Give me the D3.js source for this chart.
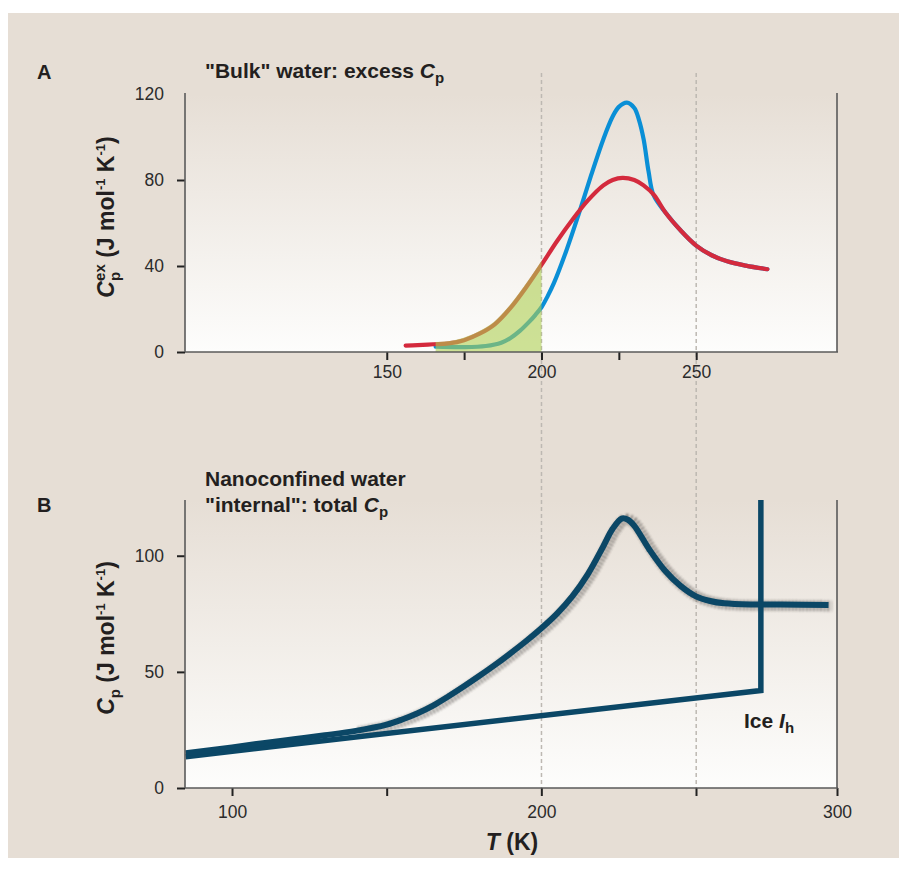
<!DOCTYPE html>
<html><head><meta charset="utf-8">
<script src="https://cdn.jsdelivr.net/npm/d3@7"></script>
<style>body{margin:0;background:#fff;} svg{display:block;font-family:"Liberation Sans",Arial,Helvetica,sans-serif;}</style>
</head><body><svg id="c" width="907" height="871"></svg>
<script>
// ---- Panel A data: "Bulk" water excess Cp (T in K, Cp in J mol-1 K-1)
const redT  = [156.1,160,165,170,175,180,185,190,195,200,205,210,215,220,223,226.2,230,233,236.4,240,245,250,255,260,266,273];
const redV  = [3,3.2,3.6,4,5.5,8.5,13,20.5,30,40.5,51.5,61.5,70.5,77.5,80,81,80,77.5,73,65,56.5,49.5,45,42.2,40.2,38.5];
const blueT = [165.8,175,182,187,190,193,196,198,200,202,204,208,212,216,220,223,225,227.6,230,231.5,233,234.6,236.2,240,245,250,255,260,266,273];
const blueV = [2.5,2.3,2.8,4.3,6.5,9.8,14,17.2,20.8,26,32,47,64,82,99,109.5,114,116,113.5,108,99,84,73,65,56.5,49.5,45,42.2,40.2,38.5];
const shadeRange = [165.8,200];
const ticksA = [150,175,200,225,250];
const labelsA = [150,200,250];
const yTicksA = [0,40,80,120];
// ---- Panel B data: nanoconfined water total Cp and ice Ih
const waterT = [85,100,110,120,130,140,150,155,160,165,170,175,180,185,190,195,200,205,210,215,220,223,226,228,230,235,240,245,250,255,260,270,280,297];
const waterV = [15,17.5,19.3,21,22.7,24.6,27.3,29.5,32.2,35.5,39.5,43.8,48.3,53,58,63.2,68.8,75,82.5,92,104,111.5,116,115.5,113,102.5,93.5,87,82.5,80.5,79.5,79,79,78.8];
const iceT = [85,273,273];
const iceV = [13.5,42,124];
const ticksB = [100,150,200,250,300];
const labelsB = [100,200,300];
const yTicksB = [0,50,100];
const guideT = [200,250];

const svg = d3.select("#c");
const defs = svg.append("defs");
const grad = defs.append("linearGradient").attr("id","pg").attr("x1",0).attr("y1",0).attr("x2",0).attr("y2",1);
grad.append("stop").attr("offset","0%").attr("stop-color","#e6ded5");
grad.append("stop").attr("offset","100%").attr("stop-color","#fdfdfc");
const blur = defs.append("filter").attr("id","bl").attr("x","-10%").attr("y","-10%").attr("width","120%").attr("height","120%");
blur.append("feGaussianBlur").attr("stdDeviation",0.9);

svg.append("rect").attr("width",907).attr("height",871).attr("fill","#fff");
svg.append("rect").attr("x",8).attr("y",13).attr("width",891).attr("height",845).attr("fill","#e6ded5");

const L=185,R=837;
const xA = d3.scaleLinear().domain([84.8,295.5]).range([L,R]);
const yA = d3.scaleLinear().domain([0,120]).range([352,94]);
const xB = d3.scaleLinear().domain([84.8,250,300]).range([L,696,R]);
const yB = d3.scaleLinear().domain([0,124]).range([788,500]);

// plot backgrounds
svg.append("rect").attr("x",L).attr("y",yA(120)).attr("width",R-L).attr("height",yA(0)-yA(120)).attr("fill","url(#pg)");
svg.append("rect").attr("x",L).attr("y",yB(124)).attr("width",R-L).attr("height",yB(0)-yB(124)).attr("fill","url(#pg)");

// dashed guides
guideT.forEach(t=>{
  svg.append("line").attr("x1",xA(t)).attr("x2",xA(t)).attr("y1",73).attr("y2",yB(0))
    .attr("stroke","#bdb8b2").attr("stroke-width",1.5).attr("stroke-dasharray","4,3");
});

// ---- Panel A curves
const lineA = d3.line().x(d=>xA(d[0])).y(d=>yA(d[1])).curve(d3.curveCatmullRom.alpha(0.5));
const blue = blueT.map((t,i)=>[t,blueV[i]]);
const red = redT.map((t,i)=>[t,redV[i]]);
svg.append("path").attr("d",lineA(blue)).attr("fill","none").attr("stroke","#0a8fd6").attr("stroke-width",4.2).attr("stroke-linecap","round");
svg.append("path").attr("d",lineA(red)).attr("fill","none").attr("stroke","#d42a3d").attr("stroke-width",4.2).attr("stroke-linecap","round");
defs.append("clipPath").attr("id","shade").append("rect")
  .attr("x",xA(shadeRange[0])).attr("y",yA(120)).attr("width",xA(shadeRange[1])-xA(shadeRange[0])).attr("height",yA(0)-yA(120));
const areaA = d3.area().x(d=>xA(d[0])).y0(yA(0)).y1(d=>yA(d[1])).curve(d3.curveCatmullRom.alpha(0.5));
svg.append("path").attr("d",areaA(red.map(d=>[d[0]-0.4,d[1]+1.0]))).attr("fill","#aecf52").attr("fill-opacity",0.6).attr("clip-path","url(#shade)");

// ---- Panel B curves
const lineB = d3.line().x(d=>xB(d[0])).y(d=>yB(d[1])).curve(d3.curveCatmullRom.alpha(0.5));
const water = waterT.map((t,i)=>[t,waterV[i]]);
const ice = iceT.map((t,i)=>[t,iceV[i]]);
const wf = water.filter(d=>d[0]>=140);
svg.append("path").attr("d",lineB(wf)).attr("fill","none").attr("stroke","#3e3a38").attr("stroke-width",11)
  .attr("stroke-dasharray","1.5,2").attr("opacity",0.7).attr("filter","url(#bl)").attr("transform","translate(3,1)");
svg.append("path").attr("d",d3.line().x(d=>xB(d[0])).y(d=>yB(d[1]))(ice)).attr("fill","none").attr("stroke","#0b4766").attr("stroke-width",5.5).attr("stroke-linejoin","miter");
svg.append("path").attr("d",lineB(water)).attr("fill","none").attr("stroke","#0b4766").attr("stroke-width",6).attr("stroke-linecap","butt");

// cover left overflow
svg.append("rect").attr("x",150).attr("y",yB(124)).attr("width",L-150).attr("height",yB(0)-yB(124)+2).attr("fill","#e6ded5");

// ---- Axes
function styleAxis(g){
  g.select(".domain").remove();
  g.selectAll(".tick line").attr("stroke","#222").attr("stroke-width",2);
  g.selectAll(".tick text").attr("fill","#2b2b2b").attr("font-size",17.5).attr("font-family","Liberation Sans, Arial, sans-serif");
}
const axc = "#5a5a5a";
// Panel A
svg.append("g").attr("transform",`translate(${L},0)`)
  .call(d3.axisLeft(yA).tickValues(yTicksA).tickSize(8).tickPadding(13)).call(styleAxis)
  .call(g=>g.selectAll(".tick").filter(d=>d===120).select("line").remove());
svg.append("g").attr("transform",`translate(0,${yA(0)})`)
  .call(d3.axisBottom(xA).tickValues(ticksA).tickSize(8).tickPadding(6).tickFormat(d=>labelsA.includes(d)?d:"")).call(styleAxis);
svg.append("line").attr("x1",L).attr("x2",L).attr("y1",yA(120)-1).attr("y2",yA(0)).attr("stroke",axc).attr("stroke-width",1.6);
svg.append("line").attr("x1",L).attr("x2",R+1).attr("y1",yA(0)).attr("y2",yA(0)).attr("stroke",axc).attr("stroke-width",1.6);
svg.append("line").attr("x1",R).attr("x2",R).attr("y1",yA(120)-1).attr("y2",yA(0)).attr("stroke",axc).attr("stroke-width",1.6);
// Panel B
svg.append("g").attr("transform",`translate(${L},0)`)
  .call(d3.axisLeft(yB).tickValues(yTicksB).tickSize(8).tickPadding(13)).call(styleAxis);
svg.append("g").attr("transform",`translate(0,${yB(0)})`)
  .call(d3.axisBottom(xB).tickValues(ticksB).tickSize(8).tickPadding(10).tickFormat(d=>labelsB.includes(d)?d:"")).call(styleAxis);
svg.append("line").attr("x1",L).attr("x2",L).attr("y1",yB(124)).attr("y2",yB(0)).attr("stroke",axc).attr("stroke-width",1.6);
svg.append("line").attr("x1",L).attr("x2",R+1).attr("y1",yB(0)).attr("y2",yB(0)).attr("stroke",axc).attr("stroke-width",1.6);
svg.append("line").attr("x1",R).attr("x2",R).attr("y1",yB(124)).attr("y2",yB(0)).attr("stroke",axc).attr("stroke-width",1.6);

// ---- Text
function rich(x,y,parts,opts={}){
  const t = svg.append("text").attr("x",x).attr("y",y).attr("font-weight","bold").attr("fill","#231f20")
    .attr("font-size",opts.size||17);
  if(opts.anchor) t.attr("text-anchor",opts.anchor);
  if(opts.rotate) t.attr("transform",`rotate(-90,${x},${y})`);
  parts.forEach(p=>{
    const s = t.append("tspan").text(p.t);
    if(p.i) s.attr("font-style","italic");
    if(p.fs) s.attr("font-size",p.fs);
    if(p.dy!==undefined) s.attr("dy",p.dy);
    if(p.dx!==undefined) s.attr("dx",p.dx);
  });
  return t;
}
rich(37,79,[{t:"A"}],{size:20});
rich(37,512,[{t:"B"}],{size:20});
rich(205,78,[{t:"\"Bulk\" water: excess "},{t:"C",i:1},{t:"p",fs:15,dy:5}],{size:21});
rich(205,486,[{t:"Nanoconfined water"}],{size:21});
rich(205,512,[{t:"\"internal\": total "},{t:"C",i:1},{t:"p",fs:15,dy:5}],{size:21});
rich(744,728,[{t:"Ice "},{t:"I",i:1},{t:"h",fs:15,dy:5}],{size:21});
rich(512,850,[{t:"T",i:1},{t:" (K)"}],{size:23,anchor:"middle"});
rich(114,217,[{t:"C",i:1},{t:"p",fs:15,dy:6},{t:"ex",fs:15,dx:-9,dy:-15},{t:" (J mol",dy:9},{t:"-1",fs:13,dy:-9},{t:" K",dy:9},{t:"-1",fs:13,dy:-9},{t:")",dy:9}],{size:23,anchor:"middle",rotate:1});
rich(114,638,[{t:"C",i:1},{t:"p",fs:15,dy:6},{t:" (J mol",dy:-6},{t:"-1",fs:13,dy:-9},{t:" K",dy:9},{t:"-1",fs:13,dy:-9},{t:")",dy:9}],{size:23,anchor:"middle",rotate:1});
</script></body></html>
